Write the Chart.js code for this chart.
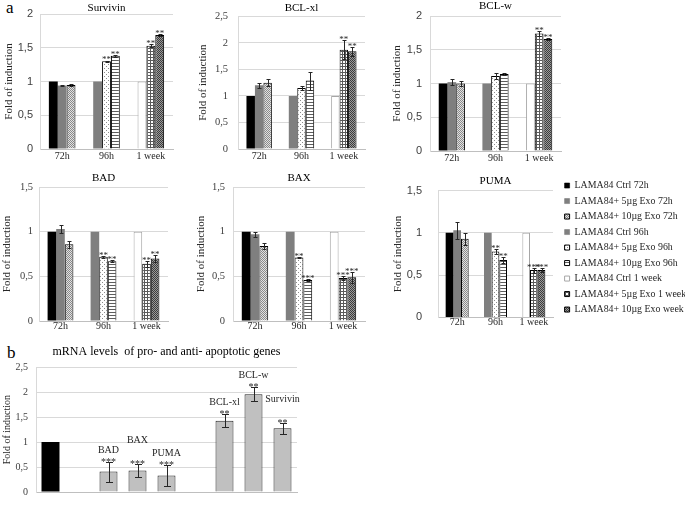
<!DOCTYPE html>
<html>
<head>
<meta charset="utf-8">
<script src="https://cdn.jsdelivr.net/npm/chart.js@4.4.1/dist/chart.umd.min.js"></script>
<style>
  html, body { margin: 0; padding: 0; background: #fff; width: 685px; height: 506px; overflow: hidden; }
  canvas { position: absolute; }
  .tag { position: absolute; font-family: "Liberation Serif", serif; font-size: 17px; line-height: 16px; color: #000; }
</style>
</head>
<body>
<div class="tag" style="left:6px;top:0px">a</div>
<div class="tag" style="left:7px;top:345px">b</div>
<canvas id="survivin"></canvas>
<canvas id="bclxl"></canvas>
<canvas id="bclw"></canvas>
<canvas id="bad"></canvas>
<canvas id="bax"></canvas>
<canvas id="puma"></canvas>
<canvas id="key"></canvas>
<canvas id="mrna"></canvas>
<script>
const SERIF = '"Liberation Serif", "Times New Roman", serif';
const SANS = '"Liberation Sans", Arial, sans-serif';

// panel a: three time points, nine series (3 per time point)
const groups = ['72h', '96h', '1 week'];
const series = [
  'LAMA84 Ctrl 72h', 'LAMA84+ 5µg Exo 72h', 'LAMA84+ 10µg Exo 72h',
  'LAMA84 Ctrl 96h', 'LAMA84+ 5µg Exo 96h', 'LAMA84+ 10µg Exo 96h',
  'LAMA84 Ctrl 1 week', 'LAMA84+ 5µg Exo 1 week', 'LAMA84+ 10µg Exo week'
];

const survivin    = [1.00, 0.94, 0.95, 1.00, 1.30, 1.38, 1.00, 1.53, 1.69];
const survivinErr = [0, 0.01, 0.01, 0, 0.01, 0.01, 0, 0.02, 0.01];
const survivinSig = ['', '', '', '', '**', '**', '', '**', '**'];

const bclxl    = [1.00, 1.20, 1.25, 1.00, 1.15, 1.29, 1.00, 1.87, 1.84];
const bclxlErr = [0, 0.05, 0.06, 0, 0.03, 0.17, 0, 0.18, 0.08];
const bclxlSig = ['', '', '', '', '', '', '', '**', '**'];

const bclw    = [1.00, 1.02, 1.00, 1.00, 1.11, 1.14, 1.00, 1.74, 1.66];
const bclwErr = [0, 0.04, 0.03, 0, 0.04, 0.02, 0, 0.04, 0.01];
const bclwSig = ['', '', '', '', '', '', '', '**', '**'];

const bad    = [1.00, 1.03, 0.86, 1.00, 0.72, 0.67, 1.00, 0.64, 0.70];
const badErr = [0, 0.05, 0.04, 0, 0.01, 0.01, 0, 0.03, 0.04];
const badSig = ['', '', '', '', '**', '**', '', '**', '**'];

const bax    = [1.00, 0.97, 0.84, 1.00, 0.71, 0.46, 1.00, 0.48, 0.49];
const baxErr = [0, 0.03, 0.03, 0, 0.01, 0.01, 0, 0.02, 0.06];
const baxSig = ['', '', '', '', '**', '***', '', '***', '***'];

const puma    = [1.00, 1.03, 0.93, 1.00, 0.78, 0.68, 1.00, 0.56, 0.56];
const pumaErr = [0, 0.10, 0.07, 0, 0.03, 0.04, 0, 0.03, 0.02];
const pumaSig = ['', '', '', '', '**', '**', '', '***', '***'];

// panel b: one bar per gene, empty slots between groups
const bGenes  = ['Ctrl', '', 'BAD', 'BAX', 'PUMA', '', 'BCL-xl', 'BCL-w', 'Survivin'];
const bValues = [1.00, null, 0.41, 0.43, 0.33, null, 1.43, 1.96, 1.28];
const bErr    = [0, null, 0.20, 0.13, 0.21, null, 0.13, 0.14, 0.11];
const bSig    = ['', '', '***', '***', '***', '', '**', '**', '**'];

Chart.defaults.font.family = SERIF;
Chart.defaults.color = '#262626';

// small repeating fills like the excel patterns
function tile(w, h, bg, fg, cells) {
  const c = document.createElement('canvas');
  c.width = w; c.height = h;
  const g = c.getContext('2d');
  g.fillStyle = bg; g.fillRect(0, 0, w, h);
  g.fillStyle = fg;
  cells.forEach(([x, y]) => g.fillRect(x, y, 1, 1));
  return g.createPattern(c, 'repeat');
}

const fills = [
  '#000000',
  '#7f7f7f',
  tile(2, 2, '#e2e2e2', '#8a8a8a', [[0, 0], [1, 1]]),
  '#7f7f7f',
  tile(4, 4, '#ffffff', '#8c8c8c', [[0, 0], [2, 2]]),
  tile(1, 3, '#ffffff', '#5e5e5e', [[0, 0]]),
  '#ffffff',
  tile(3, 3, '#ffffff', '#5a5a5a', [[0, 0], [1, 0], [2, 0], [0, 1], [0, 2]]),
  tile(2, 2, '#9a9a9a', '#3c3c3c', [[0, 0], [1, 1]])
];
const edges = ['#000', '#7f7f7f', '#000', '#7f7f7f', '#000', '#000', '#a6a6a6', '#000', '#000'];
const edgeWidths = [0, 0, 1, 0, 1, 1, 1, 1, 1];

// error bars, significance stars and gene names above bars
const marks = {
  id: 'marks',
  afterDatasetsDraw(chart, args, opts) {
    const {ctx} = chart;
    const ys = chart.scales.y;
    ctx.save();
    ctx.strokeStyle = '#262626';
    ctx.fillStyle = '#262626';
    ctx.lineWidth = 1;
    ctx.textAlign = 'center';
    ctx.textBaseline = 'alphabetic';
    chart.data.datasets.forEach((ds, di) => {
      chart.getDatasetMeta(di).data.forEach((bar, i) => {
        const v = ds.data[i];
        if (v == null) return;
        const e = ds.err ? (ds.err[i] || 0) : 0;
        let top = bar.y;
        if (e > 0) {
          const y1 = Math.round(ys.getPixelForValue(v + e)) + 0.5;
          const y2 = Math.round(ys.getPixelForValue(v - e)) + 0.5;
          const x = Math.round(bar.x) + 0.5;
          ctx.beginPath();
          ctx.moveTo(x, y1); ctx.lineTo(x, y2);
          ctx.moveTo(x - opts.cap, y1); ctx.lineTo(x + opts.cap, y1);
          ctx.moveTo(x - opts.cap, y2); ctx.lineTo(x + opts.cap, y2);
          ctx.stroke();
          top = Math.min(top, y1);
        }
        const base = top + opts.drop;
        const sig = ds.sig && ds.sig[i];
        if (sig) {
          ctx.font = opts.starSize + 'px ' + SERIF;
          ctx.fillText(sig, bar.x, base);
        }
        const name = ds.names && ds.names[i];
        if (name) {
          ctx.font = opts.nameSize + 'px ' + SERIF;
          const lift = (opts.lift && opts.lift[i]) || 0;
          ctx.fillText(name, bar.x, base - opts.nameGap * (1 + lift));
        }
      });
    });
    ctx.restore();
  }
};

const comma = v => String(v).replace('.', ',');

function panel(id, o) {
  const cv = document.getElementById(id);
  const [L, T, W, H] = o.box;
  const [pl, pt, pr, pb] = o.plot;
  cv.width = W; cv.height = H;
  cv.style.left = L + 'px';
  cv.style.top = T + 'px';
  const ts = o.titleSize || 11;
  const padTop = o.titleY - T - ts / 2;
  const padBottom = pt - T - ts - padTop;
  const ys = o.yTitleSize || 11;
  return new Chart(cv, {
    type: 'bar',
    data: {labels: o.labels, datasets: o.datasets},
    options: {
      responsive: false,
      animation: false,
      devicePixelRatio: 1,
      events: [],
      layout: {padding: {left: 0, top: 0, bottom: 0, right: L + W - pr}},
      plugins: {
        legend: {display: false},
        tooltip: {enabled: false},
        title: {
          display: true, fullSize: false, text: o.title, color: '#000',
          font: {family: SERIF, size: ts, weight: 'normal', lineHeight: 1},
          padding: {top: padTop, bottom: padBottom}
        },
        marks: o.marks
      },
      scales: {
        x: {
          grid: {display: false, drawTicks: false},
          border: {color: '#bfbfbf'},
          ticks: {display: o.xTicks !== false, padding: o.xPad, color: '#262626', font: {family: SERIF, size: 10}},
          afterFit: s => { s.height = T + H - pb; }
        },
        y: {
          min: 0, max: o.max,
          grid: {color: '#d9d9d9', drawTicks: false},
          border: {color: '#d9d9d9'},
          ticks: {stepSize: 0.5, padding: o.yPad, color: '#404040', font: o.yFont, callback: comma},
          title: {
            display: true, text: 'Fold of induction', color: '#262626',
            font: {family: SERIF, size: ys, lineHeight: 1.2},
            padding: {top: o.titleX - L - ys * 0.6, bottom: 0}
          },
          afterFit: s => { s.width = pl - L; }
        }
      }
    },
    plugins: [marks]
  });
}

function timeSets(values, errs, sigs) {
  return series.map((name, i) => {
    const g = Math.floor(i / 3);
    return {
      label: name,
      data: groups.map((_, gi) => gi === g ? values[i] : null),
      err: groups.map((_, gi) => gi === g ? errs[i] : null),
      sig: groups.map((_, gi) => gi === g ? sigs[i] : ''),
      backgroundColor: fills[i],
      borderColor: edges[i],
      borderWidth: edgeWidths[i],
      skipNull: true,
      categoryPercentage: 0.6,
      barPercentage: 1
    };
  });
}

const aMarks = {cap: 2, drop: 1, starSize: 9};
const sansTick = {family: SANS, size: 11};
const serifTick = {family: SERIF, size: 10.5};

panel('survivin', {box: [0, 0, 182, 170], plot: [40, 14, 173, 149], title: 'Survivin', titleY: 8, titleX: 9,
  max: 2, yFont: sansTick, yPad: 7, xPad: 1, labels: groups,
  datasets: timeSets(survivin, survivinErr, survivinSig), marks: aMarks});
panel('bclxl', {box: [192, 0, 180, 170], plot: [238, 14, 365, 149], title: 'BCL-xl', titleY: 5.5, titleX: 203,
  max: 2.5, yFont: serifTick, yPad: 10, xPad: 1, labels: groups,
  datasets: timeSets(bclxl, bclxlErr, bclxlSig), marks: aMarks});
panel('bclw', {box: [386, 0, 182, 170], plot: [430, 16, 561, 151], title: 'BCL-w', titleY: 6, titleX: 397,
  max: 2, yFont: sansTick, yPad: 8, xPad: 1, labels: groups,
  datasets: timeSets(bclw, bclwErr, bclwSig), marks: aMarks});
panel('bad', {box: [0, 168, 175, 172], plot: [39, 187, 168, 321], title: 'BAD', titleY: 178.3, titleX: 7.5,
  max: 1.5, yFont: serifTick, yPad: 6, xPad: -1, labels: groups,
  datasets: timeSets(bad, badErr, badSig), marks: aMarks});
panel('bax', {box: [190, 168, 180, 172], plot: [233, 187, 365, 321], title: 'BAX', titleY: 178.3, titleX: 201.5,
  max: 1.5, yFont: serifTick, yPad: 8, xPad: -1, labels: groups,
  datasets: timeSets(bax, baxErr, baxSig), marks: aMarks});
panel('puma', {box: [386, 168, 172, 172], plot: [438, 187, 553, 322], title: 'PUMA', titleY: 178, titleX: 397.7,
  max: 1.5, yFont: sansTick, yPad: 16, xPad: -1, labels: groups,
  datasets: timeSets(puma, pumaErr, pumaSig), marks: aMarks});

panel('mrna', {box: [0, 340, 312, 166], plot: [36, 367.3, 297, 501.7],
  title: 'mRNA levels  of pro- and anti- apoptotic genes', titleSize: 12, titleY: 352, titleX: 7, yTitleSize: 10,
  max: 2.5, yFont: {family: SERIF, size: 10}, yPad: 8, xTicks: false, labels: bGenes,
  datasets: [{
    label: 'mRNA',
    data: bValues,
    err: bErr,
    sig: bSig,
    names: bGenes.map((g, i) => i === 0 ? '' : g),
    backgroundColor: bValues.map((v, i) => i === 0 ? '#000000' : '#c0c0c0'),
    borderColor: '#262626',
    borderWidth: bValues.map((v, i) => i === 0 ? 0 : 1),
    categoryPercentage: 0.62,
    barPercentage: 1
  }],
  marks: {cap: 3.5, drop: 2.5, starSize: 10, nameSize: 10, nameGap: 12, lift: [0, 0, 0, 1, 0, 0, 0, 0, 1]}});

// legend for panel a, drawn by the legend plugin of an empty chart
(function () {
  const cv = document.getElementById('key');
  cv.width = 140; cv.height = 172;
  cv.style.left = '559px';
  cv.style.top = '174.6px';
  new Chart(cv, {
    type: 'bar',
    data: {
      labels: [],
      datasets: series.map((name, i) => ({
        label: name, data: [],
        backgroundColor: fills[i], borderColor: edges[i], borderWidth: edgeWidths[i] || 0.6
      }))
    },
    options: {
      responsive: false, animation: false, devicePixelRatio: 1, events: [],
      layout: {padding: 0},
      scales: {x: {display: false}, y: {display: false}},
      plugins: {
        tooltip: {enabled: false},
        legend: {
          position: 'left', align: 'start', maxWidth: 200,
          labels: {boxWidth: 5, boxHeight: 5, padding: 5.6, color: '#262626', font: {family: SERIF, size: 9.9}}
        }
      }
    }
  });
})();
</script>
</body>
</html>
